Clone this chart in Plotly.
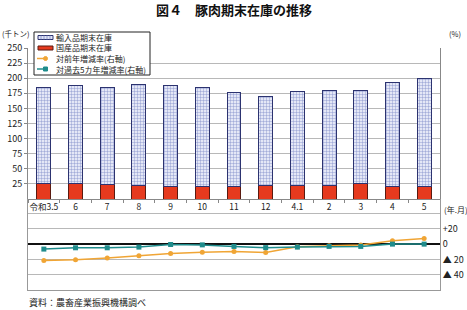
import plotly.graph_objects as go

categories = ["令和3.5", "6", "7", "8", "9", "10", "11", "12", "4.1", "2", "3", "4", "5"]
total_stock = [185, 188, 184, 189, 188, 184, 177, 169, 178, 180, 180, 193, 200]
domestic = [25, 25, 24, 22.5, 21.5, 20.5, 20.5, 23, 23, 23, 25, 21.5, 21.5]
imported = [t - d for t, d in zip(total_stock, domestic)]
yoy_rate = [-21.4, -20.5, -18.3, -15.3, -12.3, -10.5, -9.7, -11, -3.5, -2, -1, 4.3, 7.3]
five_year_rate = [-6.5, -4.8, -4.8, -3.9, -0.5, -1, -3, -4.6, -3.9, -3, -3, 0, 0]

left_ticks = [25, 50, 75, 100, 125, 150, 175, 200, 225, 250]
right_tickvals = [-40, -20, 0, 20, 40]
right_ticktext = ["▲ 40", "▲ 20", "0", "+20", ""]
legend_names = ["輸入品期末在庫", "国産品期末在庫", "対前年増減率(右軸)", "対過去5カ年増減率(右軸)"]

W, H = 467, 310
def py(p):
    return 1 - p / H
def px(p):
    return p / W

FONT = "Noto Sans CJK JP"
GRID = "#b8b8b8"
ORANGE = "#f0a535"
TEAL = "#1f8c8c"
RED = "#e63a1e"

fig = go.Figure()
fig.add_trace(go.Bar(
    x=categories, y=domestic, name=legend_names[1],
    marker=dict(color=RED, line=dict(color="#5a1a10", width=1)),
    width=0.44, xaxis="x", yaxis="y"))
fig.add_trace(go.Bar(
    x=categories, y=imported, name=legend_names[0],
    marker=dict(color="#e4e7f6", line=dict(color="#2c3370", width=1),
                pattern=dict(shape="+", size=3, solidity=0.25,
                             fgcolor="#7d8cc8", bgcolor="#e4e7f6", fillmode="replace")),
    width=0.44, xaxis="x", yaxis="y"))
fig.add_trace(go.Scatter(
    x=categories, y=yoy_rate, name=legend_names[2],
    mode="lines+markers", line=dict(color=ORANGE, width=1.5),
    marker=dict(color=ORANGE, size=5, symbol="circle"),
    xaxis="x2", yaxis="y2"))
fig.add_trace(go.Scatter(
    x=categories, y=five_year_rate, name=legend_names[3],
    mode="lines+markers", line=dict(color=TEAL, width=1.5),
    marker=dict(color=TEAL, size=5, symbol="square"),
    xaxis="x2", yaxis="y2"))

# compact legend (box, keys and labels)
shapes = [dict(type="rect", xref="paper", yref="paper", x0=px(34), x1=px(150),
               y0=py(75), y1=py(32), line=dict(color="#222", width=1), fillcolor="white")]
annotations = []
rows = [37.5, 48, 58.5, 69]
# bar keys
shapes.append(dict(type="rect", xref="paper", yref="paper", x0=px(38), x1=px(53),
                   y0=py(rows[0] + 2), y1=py(rows[0] - 2),
                   line=dict(color="#2c3370", width=1), fillcolor="#dfe3f5"))
for xx in [41, 44, 47, 50]:
    shapes.append(dict(type="line", xref="paper", yref="paper", x0=px(xx), x1=px(xx),
                       y0=py(rows[0] + 2), y1=py(rows[0] - 2), line=dict(color="#7d8cc8", width=0.8)))
shapes.append(dict(type="rect", xref="paper", yref="paper", x0=px(38), x1=px(53),
                   y0=py(rows[1] + 2), y1=py(rows[1] - 2),
                   line=dict(color="#5a1a10", width=1), fillcolor=RED))
for r, col in [(rows[2], ORANGE), (rows[3], TEAL)]:
    shapes.append(dict(type="line", xref="paper", yref="paper", x0=px(37), x1=px(54),
                       y0=py(r), y1=py(r), line=dict(color=col, width=1.5, dash="dash")))
shapes.append(dict(type="circle", xref="paper", yref="paper", x0=px(43.5), x1=px(47.5),
                   y0=py(rows[2] + 2), y1=py(rows[2] - 2), line=dict(color=ORANGE, width=1), fillcolor=ORANGE))
shapes.append(dict(type="rect", xref="paper", yref="paper", x0=px(43.5), x1=px(47.5),
                   y0=py(rows[3] + 2), y1=py(rows[3] - 2), line=dict(color=TEAL, width=1), fillcolor=TEAL))
for r, name in zip(rows, legend_names):
    annotations.append(dict(text=name, x=px(54), y=py(r), xref="paper", yref="paper",
                            xanchor="left", yanchor="middle", showarrow=False,
                            font=dict(size=8, family=FONT, color="#222")))

annotations += [
    dict(text="<b>図４　豚肉期末在庫の推移</b>", x=0.5, y=py(9), xref="paper", yref="paper",
         showarrow=False, font=dict(size=13, family=FONT, color="#111"), yanchor="middle"),
    dict(text="(千トン)", x=0, y=py(33), xref="paper", yref="paper", xanchor="left",
         yanchor="middle", showarrow=False, font=dict(size=7.5, family=FONT)),
    dict(text="(%)", x=px(447), y=py(33), xref="paper", yref="paper", xanchor="left",
         yanchor="middle", showarrow=False, font=dict(size=7.5, family=FONT)),
    dict(text="(年.月)", x=px(442), y=py(209), xref="paper", yref="paper", xanchor="left",
         yanchor="middle", showarrow=False, font=dict(size=8, family=FONT)),
    dict(text="資料：農畜産業振興機構調べ", x=px(27), y=py(302), xref="paper", yref="paper",
         xanchor="left", yanchor="middle", showarrow=False, font=dict(size=9, family=FONT)),
]

xdom = [px(28), px(440)]
fig.update_layout(
    width=W, height=H, margin=dict(l=0, r=0, t=0, b=0, autoexpand=False),
    paper_bgcolor="white", plot_bgcolor="white",
    barmode="stack", bargap=0.56,
    font=dict(family=FONT, size=9, color="#222"),
    showlegend=False,
    xaxis=dict(domain=xdom, anchor="y", type="category", showgrid=False,
               showline=True, linecolor="#888", linewidth=1, tickangle=0,
               ticks="outside", ticklen=3, tickcolor="#888", tickson="boundaries",
               tickfont=dict(size=8.5, family=FONT), range=[-0.5, 12.5], automargin=False),
    yaxis=dict(domain=[py(199), py(48)], range=[0, 250], anchor="x",
               tickvals=left_ticks, showgrid=True, gridcolor=GRID, gridwidth=1,
               showline=True, linecolor="#888", mirror=True,
               ticks="outside", ticklen=3, tickcolor="#888", automargin=False,
               tickfont=dict(size=9, family=FONT), zeroline=False),
    xaxis2=dict(domain=xdom, anchor="y2", type="category", showgrid=False,
                showticklabels=False, showline=True, linecolor="#999",
                range=[-0.5, 12.5], matches="x", automargin=False),
    yaxis2=dict(domain=[py(290), py(199)], range=[-60, 59], anchor="x2",
                side="right", tickvals=right_tickvals, ticktext=right_ticktext,
                showgrid=True, gridcolor=GRID, showline=True, linecolor="#999",
                mirror=True, ticks="", zeroline=True, zerolinecolor="#111",
                zerolinewidth=2, tickfont=dict(size=9, family=FONT), automargin=False),
    shapes=shapes,
    annotations=annotations,
)

fig.write_html("out.html")
